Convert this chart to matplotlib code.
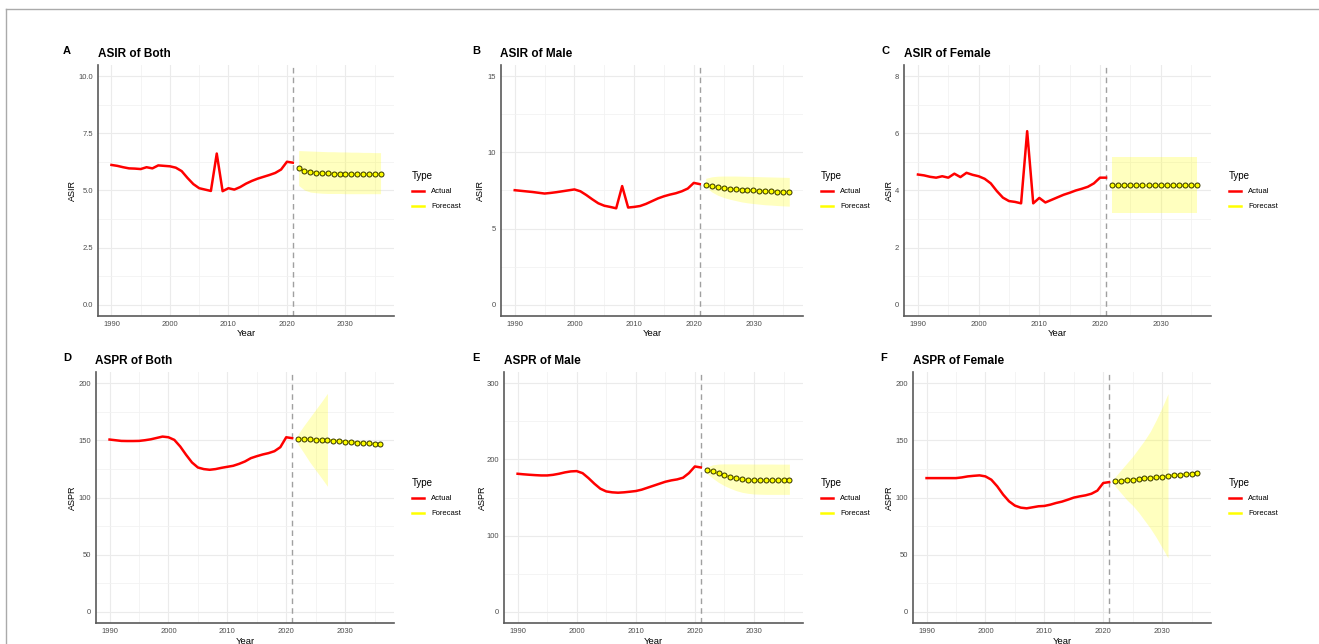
import matplotlib
matplotlib.use('Agg')
from matplotlib import pyplot as plt
from matplotlib.lines import Line2D
from matplotlib.ticker import MultipleLocator

plt.rcParams['font.family'] = ['Liberation Sans', 'DejaVu Sans']

# years
actual_years = list(range(1990, 2022))
fc_years = list(range(2022, 2037))

# ASIR, both sexes
asir_both = [6.12, 6.08, 6.02, 5.97, 5.96, 5.94, 6.02, 5.97, 6.10, 6.08, 6.06,
             6.00, 5.85, 5.55, 5.28, 5.10, 5.04, 4.98, 6.62, 4.97, 5.10,
             5.04, 5.15, 5.30, 5.42, 5.52, 5.60, 5.68, 5.77, 5.92, 6.26, 6.22]
asir_both_fc = [5.98, 5.87, 5.81, 5.78, 5.76, 5.75, 5.74, 5.73, 5.73, 5.72, 5.72, 5.72, 5.71, 5.71, 5.71]
asir_both_hi = [6.75, 6.74, 6.73, 6.72, 6.71, 6.70, 6.70, 6.69, 6.69, 6.68, 6.68, 6.67, 6.67, 6.66, 6.66]
asir_both_lo = [5.22, 5.02, 4.93, 4.90, 4.88, 4.87, 4.87, 4.87, 4.86, 4.86, 4.86, 4.86, 4.86, 4.86, 4.86]

# ASIR, male
asir_male = [7.52, 7.48, 7.44, 7.40, 7.35, 7.30, 7.34, 7.39, 7.45, 7.51, 7.57,
             7.45, 7.20, 6.92, 6.66, 6.50, 6.42, 6.33, 7.79, 6.38, 6.42,
             6.48, 6.62, 6.80, 6.98, 7.12, 7.23, 7.32, 7.45, 7.63, 8.00, 7.92]
asir_male_fc = [7.85, 7.78, 7.71, 7.66, 7.62, 7.58, 7.55, 7.52, 7.50, 7.48, 7.46, 7.44, 7.43, 7.42, 7.41]
asir_male_hi = [8.30, 8.40, 8.44, 8.45, 8.45, 8.45, 8.44, 8.43, 8.42, 8.41, 8.40, 8.39, 8.38, 8.37, 8.36]
asir_male_lo = [7.74, 7.41, 7.19, 7.04, 6.93, 6.84, 6.75, 6.69, 6.64, 6.60, 6.56, 6.54, 6.51, 6.49, 6.47]

# ASIR, female
asir_female = [4.56, 4.53, 4.48, 4.45, 4.50, 4.45, 4.59, 4.47, 4.62, 4.55, 4.50,
               4.41, 4.25, 3.98, 3.75, 3.63, 3.60, 3.55, 6.08, 3.55, 3.74,
               3.58, 3.67, 3.76, 3.85, 3.92, 4.00, 4.06, 4.13, 4.25, 4.45, 4.45]
asir_female_fc = [4.18] * 15
asir_female_hi = [5.18] * 15
asir_female_lo = [3.21] * 15

# ASPR, both sexes
aspr_both = [150.8, 150.2, 149.6, 149.5, 149.5, 149.6, 150.2, 151.0, 152.2, 153.4, 152.8,
             150.5, 144.7, 137.4, 130.7, 126.3, 124.9, 124.3, 124.9, 126.0, 126.9,
             127.8, 129.5, 131.6, 134.5, 136.2, 137.7, 138.9, 140.6, 144.1, 152.8, 152.0]
aspr_both_fc = [151.4, 151.4, 151.0, 150.8, 150.6, 150.2, 149.9, 149.6, 149.0, 148.8,
                148.2, 147.9, 147.6, 146.9, 146.7]
aspr_both_band_years = [2022, 2023, 2024, 2025, 2026, 2027]
aspr_both_hi = [155.5, 163.0, 170.0, 177.0, 184.0, 191.3]
aspr_both_lo = [146.7, 139.0, 131.0, 124.0, 117.0, 109.8]

# ASPR, male
aspr_male = [181.2, 180.5, 179.9, 179.4, 179.0, 179.0, 179.8, 181.2, 183.0, 184.3, 184.7,
             182.0, 175.5, 168.1, 161.6, 158.0, 156.8, 156.3, 156.8, 157.6, 158.5,
             160.3, 162.9, 165.5, 168.1, 170.7, 172.5, 173.8, 176.0, 182.1, 190.8, 189.5]
aspr_male_fc = [186.5, 184.3, 181.7, 179.5, 177.3, 175.5, 173.8, 172.9, 172.5, 172.5,
                172.5, 172.5, 172.6, 173.2, 173.4]
aspr_male_hi = [190.0, 193.0, 194.0, 194.2, 194.2, 194.2, 194.1, 194.1, 194.0, 194.0,
                194.0, 194.0, 193.9, 193.9, 193.9]
aspr_male_lo = [182.0, 175.5, 169.9, 165.5, 162.0, 159.0, 156.8, 155.5, 154.6, 154.3,
                154.1, 154.1, 154.1, 154.1, 154.1]

# ASPR, female
aspr_female = [117.0, 117.0, 117.0, 117.0, 117.0, 117.0, 117.6, 118.5, 119.0, 119.4, 118.5,
               115.6, 109.8, 102.6, 96.7, 92.9, 91.1, 90.5, 91.4, 92.3, 92.6,
               93.7, 95.2, 96.4, 98.1, 99.9, 101.0, 101.9, 103.3, 106.0, 112.7, 113.5]
aspr_female_fc = [114.1, 114.7, 115.3, 115.6, 116.2, 116.7, 117.3, 117.6, 118.2, 118.8,
                  119.4, 119.9, 120.2, 120.8, 121.7]
aspr_female_band_years = list(range(2022, 2032))
aspr_female_hi = [118, 124, 130, 136, 143, 150, 158, 168, 179, 191]
aspr_female_lo = [110, 104, 98, 93, 87, 80, 73, 65, 56, 47]

W, H = 1319, 644
fig = plt.figure(figsize=(W / 100, H / 100), dpi=100)

# (letter, title, ylabel, actual, fc, band years, lo, hi, ylim, ystep, pixel box l r t b, letter x, title x, ylabel x)
panels = [
    ('A', 'ASIR of Both', 'ASIR', asir_both, asir_both_fc, fc_years, asir_both_lo, asir_both_hi,
     (-0.5, 10.5), 2.5, (98, 394, 65, 316), 67, 98, 72),
    ('B', 'ASIR of Male', 'ASIR', asir_male, asir_male_fc, fc_years, asir_male_lo, asir_male_hi,
     (-0.75, 15.75), 5, (501, 803, 65, 316), 476, 500, 480),
    ('C', 'ASIR of Female', 'ASIR', asir_female, asir_female_fc, fc_years, asir_female_lo, asir_female_hi,
     (-0.4, 8.4), 2, (904, 1211, 65, 316), 885, 904, 889),
    ('D', 'ASPR of Both', 'ASPR', aspr_both, aspr_both_fc, aspr_both_band_years, aspr_both_lo, aspr_both_hi,
     (-10, 210), 50, (96, 394, 372, 623), 67, 95, 72),
    ('E', 'ASPR of Male', 'ASPR', aspr_male, aspr_male_fc, fc_years, aspr_male_lo, aspr_male_hi,
     (-15, 315), 100, (504, 803, 372, 623), 476, 504, 482),
    ('F', 'ASPR of Female', 'ASPR', aspr_female, aspr_female_fc, aspr_female_band_years, aspr_female_lo,
     aspr_female_hi, (-10, 210), 50, (913, 1211, 372, 623), 884, 913, 889),
]

for (letter, title, ylab, act, fc, byears, lo, hi, ylim, ystep, box, letx, titx, ylx) in panels:
    l, r, t, b = box
    ax = fig.add_axes([l / W, 1 - b / H, (r - l) / W, (b - t) / H])
    ax.set_axisbelow(True)

    ax.fill_between(byears, lo, hi, color='yellow', alpha=0.25, lw=0)
    ax.axvline(actual_years[-1], color='#A0A0A0', lw=1, dashes=(4, 3))
    ax.plot(actual_years, act, color='red', lw=1.8, zorder=3)
    ax.plot(fc_years, fc, color='yellow', lw=1.8, zorder=3)
    ax.plot(fc_years, fc, ls='none', marker='o', ms=3.6, mfc='yellow', mec='#333300', mew=0.7, zorder=4)

    ax.set_xlim(1987.7, 2038.3)
    ax.set_ylim(*ylim)
    ax.xaxis.set_major_locator(MultipleLocator(10))
    ax.xaxis.set_minor_locator(MultipleLocator(5))
    ax.yaxis.set_major_locator(MultipleLocator(ystep))
    ax.yaxis.set_minor_locator(MultipleLocator(ystep / 2))
    if ystep == 2.5:
        ax.yaxis.set_major_formatter(lambda v, p: '%.1f' % v)
    ax.grid(which='major', color='#EBEBEB', lw=0.8)
    ax.grid(which='minor', color='#F2F2F2', lw=0.6)
    ax.tick_params(which='both', length=0, labelsize=5.5, labelcolor='#4D4D4D', pad=3.5)
    for s in ['top', 'right']:
        ax.spines[s].set_visible(False)
    for s in ['left', 'bottom']:
        ax.spines[s].set_color('#5A5A5A')
        ax.spines[s].set_linewidth(1.2)

    # text around the panel
    fig.text(letx / W, 1 - (t - 14) / H, letter, fontsize=8, fontweight='bold', ha='center', va='center')
    fig.text(titx / W, 1 - (t - 11) / H, title, fontsize=8.5, fontweight='bold', ha='left', va='center')
    fig.text(ylx / W, 1 - (t + b) / 2 / H, ylab, fontsize=6.5, rotation=90, ha='center', va='center')
    fig.text((l + r) / 2 / W, 1 - (b + 18) / H, 'Year', fontsize=6.8, ha='center', va='center')

    handles = [Line2D([], [], color='red', lw=1.8), Line2D([], [], color='yellow', lw=1.8)]
    ax.legend(handles, ['Actual', 'Forecast'], title='Type', loc='center left',
              bbox_to_anchor=(1 + 14 / (r - l), 0.5), frameon=False, fontsize=5.5,
              title_fontsize=7, handlelength=1.6, handletextpad=0.9, labelspacing=1.0,
              borderpad=0, alignment='left')

# thin frame round the figure (top and left edges)
fig.add_artist(Line2D([6 / W, 1], [1 - 9 / H, 1 - 9 / H], transform=fig.transFigure, color='#AAAAAA', lw=1))
fig.add_artist(Line2D([6 / W, 6 / W], [0, 1 - 9 / H], transform=fig.transFigure, color='#AAAAAA', lw=1))

plt.savefig('out.png', dpi=100)
